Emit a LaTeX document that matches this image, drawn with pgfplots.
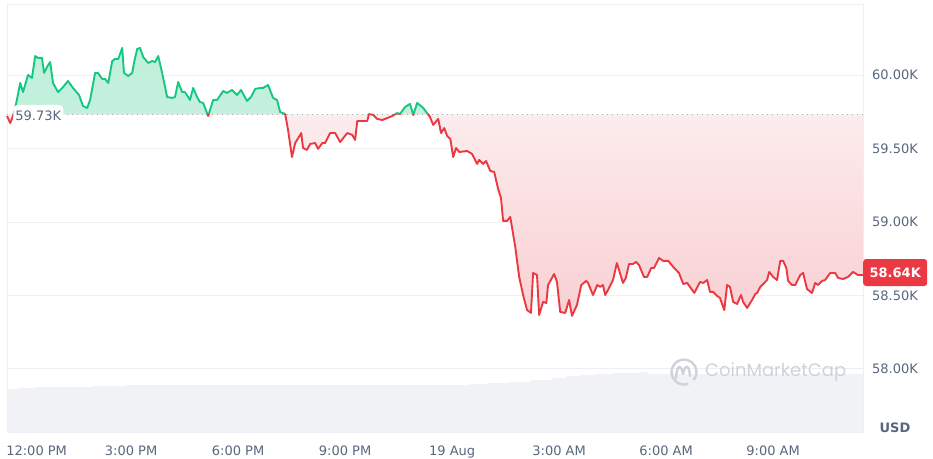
\documentclass[border=0pt]{standalone}
\usepackage{pgfplots}
\pgfplotsset{compat=1.18}
\usepackage{pgfplotstable}
\usepackage{fontspec}
\setmainfont{DejaVu Sans}
\newfontfamily\wmfont{Poppins}
\definecolor{cmcgreen}{HTML}{16C784}
\definecolor{cmcred}{HTML}{EA3943}
\definecolor{labelgray}{HTML}{58667E}
\definecolor{gridgray}{HTML}{EEEFF1}
\definecolor{volgray}{HTML}{F0F2F5}
\definecolor{wmgray}{HTML}{CDD2DB}
\definecolor{greentop}{HTML}{BFEFDA}
\definecolor{greenbot}{HTML}{D6F5E7}
\definecolor{redtop}{HTML}{FEF5F6}
\definecolor{redbot}{HTML}{F8D0D3}
\definecolor{dotgray}{HTML}{A6ADB9}

\pgfplotstableread{
h v
-0.48 59721
-0.39 59673
-0.31 59721
-0.22 59810
-0.11 59946
-0.03 59884
0.11 60000
0.22 59980
0.31 60129
0.39 60116
0.50 60116
0.56 60014
0.64 60054
0.73 60088
0.81 59946
0.95 59884
1.07 59912
1.23 59959
1.37 59912
1.54 59864
1.65 59789
1.77 59776
1.85 59830
1.99 60014
2.07 60014
2.19 59973
2.27 59973
2.36 59946
2.47 60095
2.55 60109
2.64 60109
2.75 60184
2.80 60014
2.92 59993
3.03 60014
3.08 60082
3.17 60177
3.25 60184
3.34 60122
3.48 60082
3.59 60095
3.67 60088
3.76 60129
3.87 60014
4.01 59850
4.15 59844
4.23 59850
4.32 59952
4.43 59884
4.51 59884
4.65 59830
4.74 59912
4.85 59850
4.93 59816
5.02 59810
5.16 59721
5.30 59830
5.41 59830
5.58 59891
5.69 59878
5.83 59898
5.97 59864
6.08 59898
6.25 59823
6.36 59850
6.48 59905
6.62 59912
6.70 59912
6.84 59932
6.98 59844
7.09 59830
7.18 59748
7.32 59735
7.40 59626
7.51 59442
7.60 59537
7.77 59605
7.82 59503
7.93 59490
8.02 59531
8.16 59537
8.24 59497
8.36 59537
8.44 59537
8.58 59605
8.72 59605
8.86 59544
9.06 59605
9.20 59592
9.28 59558
9.34 59687
9.62 59687
9.67 59735
9.79 59728
9.90 59701
10.04 59694
10.12 59701
10.32 59721
10.46 59741
10.54 59735
10.68 59782
10.82 59803
10.91 59728
11.02 59810
11.19 59776
11.38 59714
11.47 59660
11.61 59701
11.69 59605
11.78 59639
11.86 59585
11.95 59565
12.03 59442
12.11 59503
12.20 59476
12.42 59483
12.56 59463
12.70 59395
12.76 59422
12.87 59395
12.95 59415
13.07 59347
13.18 59340
13.29 59224
13.37 59163
13.43 59007
13.54 59007
13.63 59034
13.77 58830
13.88 58626
13.99 58503
14.10 58401
14.21 58381
14.27 58653
14.38 58639
14.44 58367
14.55 58456
14.64 58449
14.69 58571
14.86 58646
14.94 58592
15.03 58388
15.17 58381
15.28 58469
15.36 58361
15.50 58435
15.62 58571
15.76 58599
15.81 58585
15.95 58503
16.07 58571
16.15 58558
16.23 58571
16.29 58503
16.37 58537
16.51 58605
16.62 58721
16.68 58673
16.79 58585
16.87 58619
16.96 58714
17.07 58714
17.16 58728
17.24 58707
17.38 58626
17.47 58626
17.58 58687
17.66 58687
17.80 58755
17.92 58735
18.06 58735
18.20 58694
18.36 58653
18.48 58578
18.59 58585
18.79 58517
18.95 58592
19.04 58585
19.15 58605
19.23 58524
19.32 58524
19.43 58497
19.51 58483
19.63 58401
19.71 58571
19.79 58558
19.88 58456
19.99 58442
20.10 58503
20.16 58456
20.27 58415
20.41 58469
20.50 58510
20.55 58517
20.64 58558
20.75 58585
20.83 58605
20.89 58660
21.00 58626
21.11 58605
21.20 58735
21.28 58735
21.37 58687
21.42 58599
21.53 58571
21.62 58571
21.76 58639
21.84 58653
21.95 58544
22.09 58517
22.18 58585
22.26 58571
22.37 58599
22.46 58605
22.60 58653
22.74 58653
22.82 58619
22.96 58612
23.10 58626
23.24 58660
23.38 58639
23.52 58639
}\pricetable

\pgfplotstableread{
h vol
-0.48 43
-0.17 44
0.34 45
1.93 46
2.86 47
5.00 47
7.00 47
8.50 47
10.00 47
11.00 47
12.50 48
13.00 49
13.60 50
14.20 52
14.80 54
15.20 56
15.60 57
16.00 58
16.50 59
17.00 59
17.30 60
17.50 58
23.52 58
}\voltable

\begin{document}
\begin{tikzpicture}
\path[use as bounding box] (0pt,0pt) rectangle (933pt,458pt);

% volume (background)
\begin{axis}[
  at={(7pt,26pt)}, anchor=south west,
  width=856pt, height=428pt, scale only axis,
  xmin=-0.48, xmax=23.52, ymin=0, ymax=428,
  hide axis,
]
\addplot[const plot, fill=volgray, draw=none] table[x=h,y=vol]{\voltable} \closedcycle;
\end{axis}

% price
\begin{axis}[
  at={(7pt,26pt)}, anchor=south west,
  width=856pt, height=428pt, scale only axis,
  xmin=-0.48, xmax=23.52, ymin=57571, ymax=60483,
  clip=false,
  scaled y ticks=false, scaled x ticks=false,
  axis line style={draw=gridgray, line width=0.9pt},
  major tick length=0pt,
  ymajorgrids,
  grid style={gridgray, line width=0.9pt},
  ytick={58000,58500,59000,59500,60000},
  yticklabels={58.00K,58.50K,59.00K,59.50K,60.00K},
  yticklabel pos=right,
  yticklabel style={anchor=west, inner sep=0pt, xshift=9pt,
     font=\fontsize{13}{15}\selectfont, text=labelgray},
  xtick={3,6,9,12,15,18,21},
  xticklabels={3:00 PM,6:00 PM,9:00 PM,19 Aug,3:00 AM,6:00 AM,9:00 AM},
  xticklabel style={anchor=base, inner sep=0pt, yshift=-23pt,
     font=\fontsize{13}{15}\selectfont, text=labelgray},
  extra x ticks={0},
  extra x tick labels={12:00 PM},
  extra x tick style={xticklabel style={anchor=base west, xshift=-18pt}},
]
% green area (above baseline)
\begin{scope}
\clip (axis cs:-1,59730) rectangle (axis cs:25,61000);
\addplot[draw=none, top color=greentop, bottom color=greenbot]
  table[x=h,y=v]{\pricetable} -- (axis cs:23.52,59730) -- (axis cs:-0.48,59730) -- cycle;
\end{scope}
% red area (below baseline)
\begin{scope}
\clip (axis cs:-1,59730) rectangle (axis cs:25,57000);
\addplot[draw=none, top color=redtop, bottom color=redbot]
  table[x=h,y=v]{\pricetable} -- (axis cs:23.52,59730) -- (axis cs:-0.48,59730) -- cycle;
\end{scope}
% baseline
\addplot[dotgray, line width=1.1pt, dash pattern=on 1.1pt off 3.9pt]
  coordinates {(-0.48,59730) (23.52,59730)};
\begin{scope}
\clip (axis cs:-1,59730) rectangle (axis cs:25,61000);
\addplot[cmcgreen, line width=1.9pt, line join=round] table[x=h,y=v]{\pricetable};
\end{scope}
\begin{scope}
\clip (axis cs:-1,59730) rectangle (axis cs:25,57000);
\addplot[cmcred, line width=1.9pt, line join=round] table[x=h,y=v]{\pricetable};
\end{scope}
\node[anchor=west, fill=white, rounded corners=4pt, minimum width=50pt,
      minimum height=22pt, inner sep=0pt, text=labelgray,
      font=\fontsize{13}{15}\selectfont] at (axis cs:-0.31,59721) {59.73K};
\coordinate (lastp) at (axis cs:23.52,58656);
\end{axis}

\node[anchor=west, fill=cmcred, rounded corners=3pt, minimum width=64pt,
      minimum height=27pt, inner sep=0pt, text=white,
      font=\bfseries\fontsize{13}{15}\selectfont] at (lastp) {58.64K};

\node[anchor=base, text=labelgray, font=\bfseries\fontsize{13}{15}\selectfont]
  at (895pt,26pt) {USD};

% watermark
\draw[wmgray, line width=2.4pt] (684pt,86pt) ++(-40:12.5pt) arc (-40:290:12.5pt);
\draw[wmgray, line width=2.4pt, line join=round, line cap=round]
  (676pt,80pt) .. controls (677pt,94pt) and (681pt,94pt) .. (683pt,84pt)
  .. controls (685pt,94pt) and (689pt,94pt) .. (690pt,82pt);
\node[anchor=west, text=wmgray, inner sep=0pt, font=\wmfont\fontsize{18}{20}\selectfont]
  at (705pt,86pt) {CoinMarketCap};
\end{tikzpicture}
\end{document}
